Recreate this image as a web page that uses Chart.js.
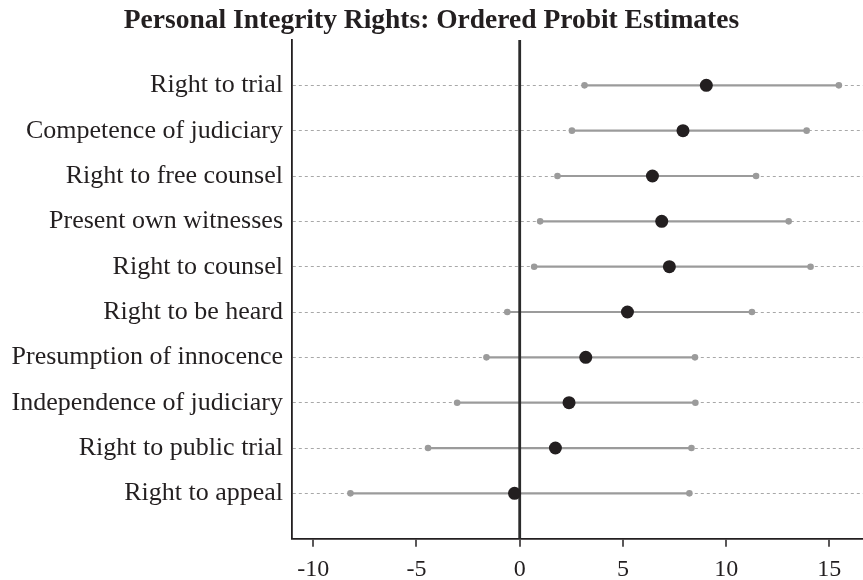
<!DOCTYPE html>
<html>
<head>
<meta charset="utf-8">
<script src="https://cdn.jsdelivr.net/npm/chart.js@4/dist/chart.umd.min.js"></script>
<style>
html,body{margin:0;padding:0;background:#fff;}
#wrap{width:863px;height:580px;}
</style>
</head>
<body>
<div id="wrap"><canvas id="c" width="863" height="580"></canvas></div>
<script>
const categories = [
  "Right to trial",
  "Competence of judiciary",
  "Right to free counsel",
  "Present own witnesses",
  "Right to counsel",
  "Right to be heard",
  "Presumption of innocence",
  "Independence of judiciary",
  "Right to public trial",
  "Right to appeal"
];
const estimates = [9.04, 7.91, 6.43, 6.88, 7.25, 5.22, 3.20, 2.39, 1.73, -0.25];
const lowerBounds = [3.14, 2.53, 1.83, 0.99, 0.70, -0.60, -1.61, -3.03, -4.44, -8.20];
const upperBounds = [15.46, 13.90, 11.45, 13.03, 14.09, 11.25, 8.49, 8.51, 8.32, 8.22];
const xTicks = [-10, -5, 0, 5, 10, 15];
const referenceLine = 0;
const X_MIN = -11.03, X_MAX = 16.63;

const n = categories.length;
const rowPos = i => n - i;

const datasets = [];
categories.forEach((c, i) => {
  datasets.push({
    label: c + " CI",
    data: [{x: lowerBounds[i], y: rowPos(i)}, {x: upperBounds[i], y: rowPos(i)}],
    showLine: true,
    borderColor: '#9b9b9b',
    borderWidth: 2.2,
    pointRadius: 3.3,
    pointBackgroundColor: '#9b9b9b',
    pointBorderWidth: 0,
    order: 3
  });
});
datasets.push({
  label: 'Zero',
  data: [{x: referenceLine, y: 0}, {x: referenceLine, y: n + 1}],
  showLine: true,
  borderColor: '#2b2b2b',
  borderWidth: 2.8,
  pointRadius: 0,
  order: 2
});
datasets.push({
  label: 'Estimate',
  data: estimates.map((v, i) => ({x: v, y: rowPos(i)})),
  showLine: false,
  pointRadius: 6.5,
  pointBackgroundColor: '#231f20',
  pointBorderWidth: 0,
  order: 1
});

const isReal = v => xTicks.includes(v);

new Chart(document.getElementById('c'), {
  type: 'scatter',
  data: {datasets},
  options: {
    responsive: false,
    animation: false,
    layout: {padding: 0, autoPadding: false},
    plugins: {
      legend: {display: false},
      tooltip: {enabled: false},
      title: {
        display: true,
        text: 'Personal Integrity Rights: Ordered Probit Estimates',
        color: '#231f20',
        font: {family: '"Liberation Serif", serif', size: 27.5, weight: 'bold', lineHeight: 1.2},
        padding: {top: 4.5, bottom: 2.5}
      }
    },
    scales: {
      x: {
        type: 'linear',
        min: X_MIN,
        max: X_MAX,
        afterBuildTicks: s => { s.ticks = [X_MIN, ...xTicks, X_MAX].map(v => ({value: v})); },
        afterFit: s => { s.height = 41.3; s.paddingRight = 0; s.paddingLeft = 0; },
        ticks: {
          color: '#231f20',
          font: {family: '"Liberation Serif", serif', size: 24},
          padding: 9,
          maxRotation: 0,
          autoSkip: false,
          callback: v => isReal(v) ? String(v) : ''
        },
        grid: {
          drawTicks: true,
          tickLength: 8,
          tickColor: ctx => (ctx.tick && isReal(ctx.tick.value)) ? '#231f20' : 'rgba(0,0,0,0)',
          tickWidth: 1.5,
          color: 'rgba(0,0,0,0)',
          lineWidth: 0
        },
        border: {display: true, color: '#231f20', width: 1.8}
      },
      y: {
        type: 'linear',
        min: 0,
        max: n + 1,
        afterBuildTicks: s => { s.ticks = categories.map((c, i) => ({value: rowPos(i)})); },
        afterFit: s => { s.width = 292; },
        ticks: {
          color: '#231f20',
          font: {family: '"Liberation Serif", serif', size: 26},
          padding: 9,
          autoSkip: false,
          callback: v => categories[n - v]
        },
        grid: {
          drawTicks: false,
          color: '#a8a8a8',
          lineWidth: 1
        },
        border: {display: true, color: '#231f20', width: 1.8, dash: [3, 3]}
      }
    }
  }
});
</script>
</body>
</html>
